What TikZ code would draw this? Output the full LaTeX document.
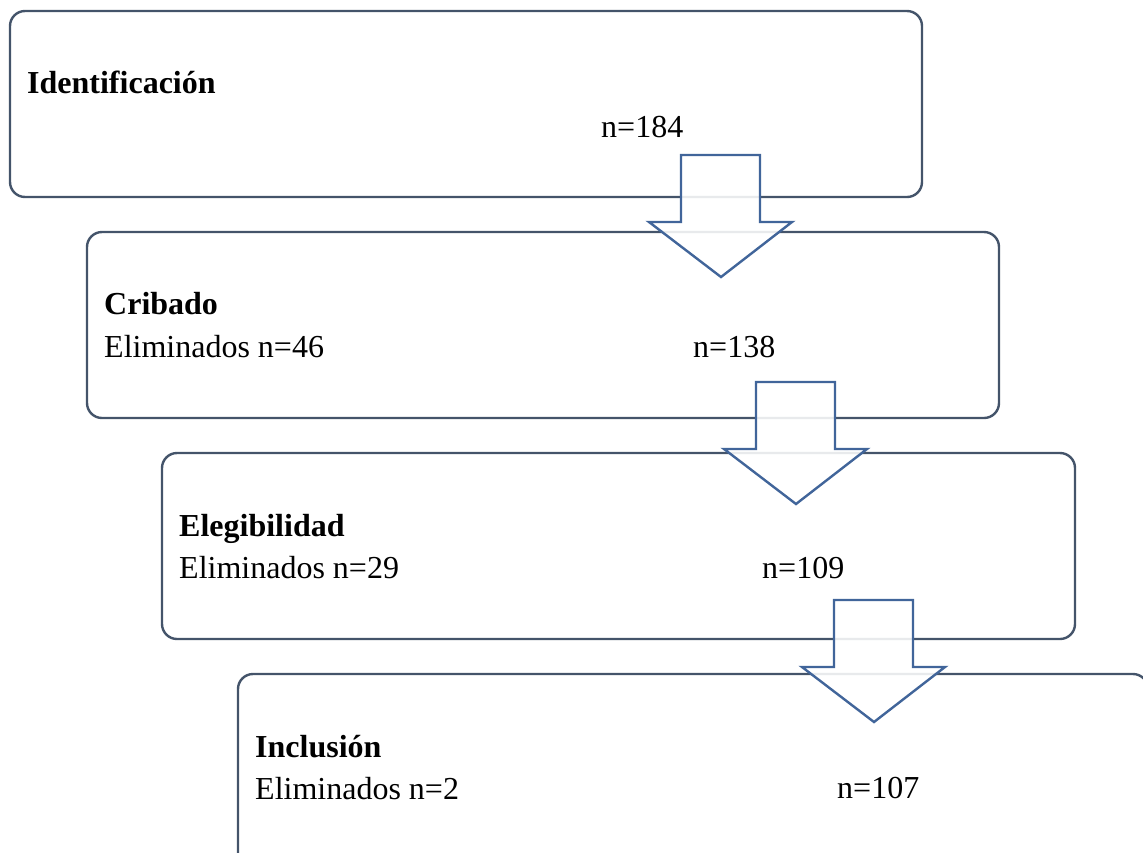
\documentclass[tikz,border=0pt]{standalone}
\usepackage{fontspec}
\setmainfont{Liberation Serif}
\definecolor{boxc}{HTML}{44546A}
\definecolor{arrc}{HTML}{41659A}
\begin{document}
\begin{tikzpicture}[x=1pt,y=-1pt,
  stage/.style={draw=boxc,line width=2.4pt,rounded corners=15pt},
  downarrow/.style={draw=arrc,line width=2.4pt,fill=white,fill opacity=0.88,line join=miter},
  title/.style={anchor=base west,inner sep=0pt,font=\fontsize{32}{38}\selectfont\bfseries},
  txt/.style={anchor=base west,inner sep=0pt,font=\fontsize{32}{38}\selectfont}]
\useasboundingbox (0,0) rectangle (1143,852);
\clip (0,0) rectangle (1143,852);
% boxes
\draw[stage] (10,11) rectangle (922,197);
\draw[stage] (87,232) rectangle (999,418);
\draw[stage] (162,453) rectangle (1075,639);
\draw[stage] (238,674) rectangle (1148,880);
% arrows
\foreach \i/\dx/\dy in {1/0/0,2/75/227,3/153/445}{
  \draw[downarrow,shift={(\dx,\dy)}] (681,155) -- (760,155) -- (760,222) -- (792,222)
     -- (721,277) -- (649,222) -- (681,222) -- cycle;
}
% texts
\node[title] (t1) at (27,93) {Identificación};
\node[txt] (n1) at (601,137) {n=184};
\node[title] (t2) at (104,314) {Cribado};
\node[txt] (e2) at (104,357) {Eliminados n=46};
\node[txt] (n2) at (693,357) {n=138};
\node[title] (t3) at (179,536) {Elegibilidad};
\node[txt] (e3) at (179,578) {Eliminados n=29};
\node[txt] (n3) at (762,578) {n=109};
\node[title] (t4) at (255,757) {Inclusión};
\node[txt] (e4) at (255,799) {Eliminados n=2};
\node[txt] (n4) at (837,798) {n=107};
\end{tikzpicture}
\end{document}
